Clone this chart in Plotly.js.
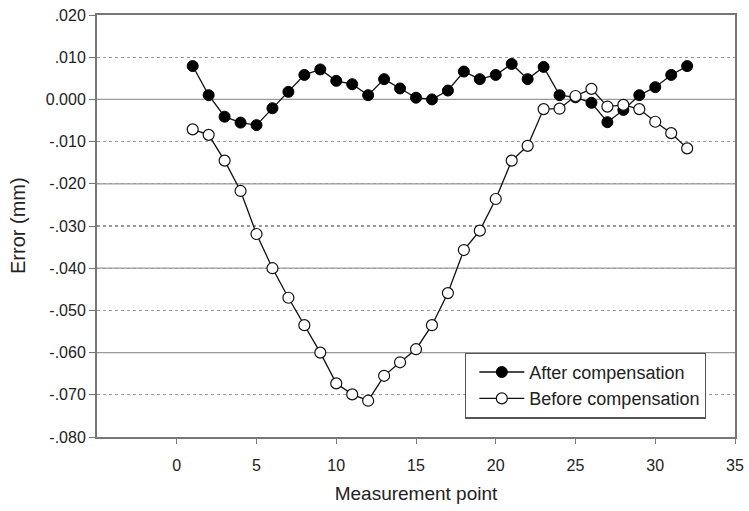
<!DOCTYPE html>
<html><head><meta charset="utf-8">
<script src="https://cdn.plot.ly/plotly-3.0.1.min.js"></script>
<style>html,body{margin:0;padding:0;background:#fff}#chart{width:749px;height:511px}</style>
</head><body><div id="chart"></div>
<script>
const points = [1,2,3,4,5,6,7,8,9,10,11,12,13,14,15,16,17,18,19,20,21,22,23,24,25,26,27,28,29,30,31,32];
const afterComp = [0.0079,0.0010,-0.0041,-0.0055,-0.0061,-0.0021,0.0018,0.0058,0.0071,0.0044,0.0036,0.0010,0.0048,0.0026,0.0004,0.0000,0.0021,0.0066,0.0048,0.0058,0.0084,0.0048,0.0077,0.0010,0.0005,-0.0008,-0.0054,-0.0025,0.0010,0.0029,0.0058,0.0079];
const beforeComp = [-0.0071,-0.0084,-0.0145,-0.0217,-0.0319,-0.0400,-0.0470,-0.0535,-0.0600,-0.0673,-0.0699,-0.0714,-0.0655,-0.0623,-0.0592,-0.0535,-0.0459,-0.0357,-0.0311,-0.0236,-0.0145,-0.0110,-0.0023,-0.0022,0.0008,0.0025,-0.0017,-0.0013,-0.0023,-0.0053,-0.0080,-0.0116];
const yTickVals = [0.02,0.01,0,-0.01,-0.02,-0.03,-0.04,-0.05,-0.06,-0.07,-0.08];
const yTickText = ['.020','.010','0.000','-.010','-.020','-.030','-.040','-.050','-.060','-.070','-.080'];
const xTickVals = [0,5,10,15,20,25,30,35];
const solidGrid = [0,-0.02,-0.04,-0.06];

const txt = '#222';
const traces = [
  {x: points, y: afterComp, name: 'After compensation', type: 'scatter', mode: 'lines+markers',
   line: {color: '#111', width: 1.3},
   marker: {symbol: 'circle', size: 11, color: '#000', line: {color: '#000', width: 1}}},
  {x: points, y: beforeComp, name: 'Before compensation', type: 'scatter', mode: 'lines+markers',
   line: {color: '#111', width: 1.3},
   marker: {symbol: 'circle', size: 11, color: '#fff', line: {color: '#111', width: 1.2}}}
];
const shapes = solidGrid.map(v => ({type: 'line', xref: 'paper', x0: 0, x1: 1, yref: 'y', y0: v, y1: v,
  line: {color: '#999', width: 1.2}, layer: 'below'}));
const layout = {
  width: 749, height: 511,
  margin: {l: 97, r: 14, t: 15, b: 74},
  paper_bgcolor: '#fff', plot_bgcolor: '#fff',
  font: {family: 'Liberation Sans, Arial, sans-serif', color: txt, size: 16},
  showlegend: true,
  legend: {x: 0.577, y: 0.2, xanchor: 'left', yanchor: 'top', bordercolor: '#555', borderwidth: 1.2,
    bgcolor: '#fff', font: {size: 18, color: txt}, tracegroupgap: 0, itemwidth: 45, indentation: 8},
  xaxis: {range: [-5, 35], tickmode: 'array', tickvals: xTickVals, ticks: 'outside', ticklen: 5,
    tickcolor: '#777', showgrid: false, zeroline: false, showline: true, linecolor: '#777', linewidth: 2,
    mirror: true, tickfont: {size: 16, color: txt}, ticklabelstandoff: 8,
    title: {text: 'Measurement point', font: {size: 19, color: txt}, standoff: 13}},
  yaxis: {range: [-0.08, 0.02], tickmode: 'array', tickvals: yTickVals, ticktext: yTickText,
    ticks: 'outside', ticklen: 6, tickcolor: '#777', showgrid: true, gridcolor: '#999', griddash: 'dot',
    gridwidth: 1.2, zeroline: false, showline: true, linecolor: '#777', linewidth: 2, mirror: true,
    tickfont: {size: 16, color: txt}, automargin: false},
  annotations: [{text: 'Error (mm)', xref: 'paper', yref: 'paper', x: 0, y: 0.5, xanchor: 'center',
    yanchor: 'middle', xshift: -79, textangle: -90, showarrow: false, font: {size: 20, color: txt}}],
  shapes: shapes
};
Plotly.newPlot('chart', traces, layout, {displayModeBar: false, staticPlot: true});
</script></body></html>
